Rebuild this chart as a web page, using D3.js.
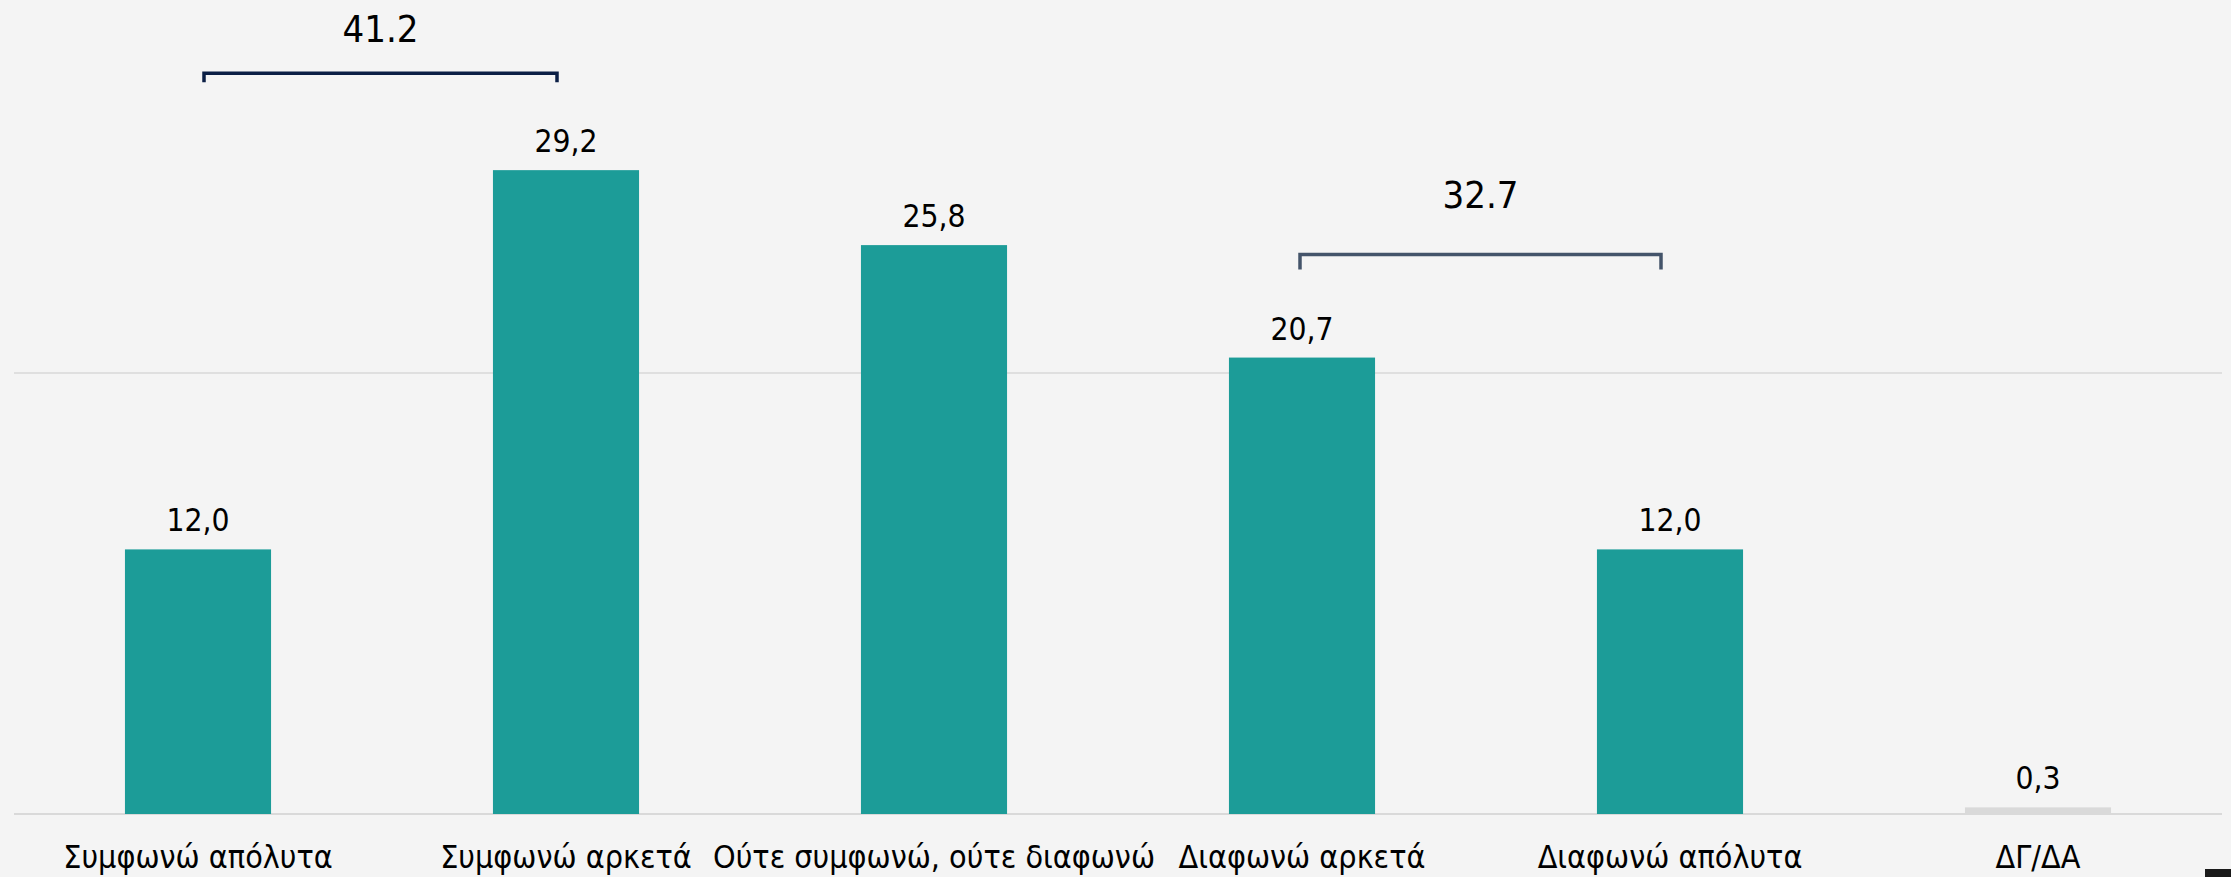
<!DOCTYPE html>
<html>
<head>
<meta charset="utf-8">
<script src="https://cdn.jsdelivr.net/npm/d3@7"></script>
<style>
  body { margin: 0; background: #f4f4f4; }
  svg { display: block; }
  text { font-family: "DejaVu Sans Condensed", "DejaVu Sans", sans-serif; fill: #000; }
</style>
</head>
<body>
<div id="bar-graph"></div>
<script>
// Chart data
const categories = ["Συμφωνώ απόλυτα", "Συμφωνώ αρκετά", "Ούτε συμφωνώ, ούτε διαφωνώ",
                    "Διαφωνώ αρκετά", "Διαφωνώ απόλυτα", "ΔΓ/ΔΑ"];
const values = [12.0, 29.2, 25.8, 20.7, 12.0, 0.3];
const valueLabels = ["12,0", "29,2", "25,8", "20,7", "12,0", "0,3"];
const gridTicks = [0, 20];

// Bracket annotations (sums of adjacent bars)
const bracketPairs = [[0, 1], [3, 4]];
const bracketLabels = ["41.2", "32.7"];

let width = 2231,
    height = 877;

// plot area
let plot = { left: 14, right: 2222, bottom: 814, top: 373 };

let svg = d3.select("#bar-graph")
    .append("svg")
    .attr("width", width)
    .attr("height", height);

svg.append("rect")
    .attr("width", width)
    .attr("height", height)
    .attr("fill", "#f4f4f4");

// X scale
let x = d3.scaleBand()
    .domain(categories)
    .range([plot.left, plot.right])
    .paddingInner(0.603)
    .paddingOuter(0.3015);

// Y scale (gridline at 20 sits at plot.top)
let y = d3.scaleLinear()
    .domain([0, 20])
    .range([plot.bottom, plot.top]);

// Gridlines
svg.append("g")
    .selectAll("line")
    .data(gridTicks)
    .enter()
    .append("line")
    .attr("x1", plot.left)
    .attr("x2", plot.right)
    .attr("y1", d => y(d))
    .attr("y2", d => y(d))
    .attr("stroke", "#d9d9d9")
    .attr("stroke-width", d => d === 0 ? 2.2 : 1.3);

// Bars
svg.selectAll("rect.bar")
    .data(values)
    .enter()
    .append("rect")
    .attr("class", "bar")
    .attr("x", (d, i) => x(categories[i]))
    .attr("y", d => y(d))
    .attr("width", x.bandwidth())
    .attr("height", d => y(0) - y(d))
    .attr("fill", (d, i) => categories[i] === "ΔΓ/ΔΑ" ? "#d9d9d9" : "#1c9c98");

// Value labels
svg.selectAll("text.value")
    .data(values)
    .enter()
    .append("text")
    .attr("class", "value")
    .attr("x", (d, i) => x(categories[i]) + x.bandwidth() / 2)
    .attr("y", d => y(d) - 18)
    .attr("text-anchor", "middle")
    .style("font-size", "31.5px")
    .text((d, i) => valueLabels[i]);

// Category labels
svg.selectAll("text.cat")
    .data(categories)
    .enter()
    .append("text")
    .attr("class", "cat")
    .attr("x", d => x(d) + x.bandwidth() / 2)
    .attr("y", 868)
    .attr("text-anchor", "middle")
    .style("font-size", "32px")
    .text(d => d);

// Brackets
let bracketStyle = [
    { lift: 97, tick: 9, labelGap: 31, color: "#0b1f45", l: 6, r: -9 },
    { lift: 103, tick: 15, labelGap: 47, color: "#44546a", l: -2, r: -9 }
];

bracketPairs.forEach((pair, i) => {
    let s = bracketStyle[i];
    let x1 = x(categories[pair[0]]) + x.bandwidth() / 2 + s.l;
    let x2 = x(categories[pair[1]]) + x.bandwidth() / 2 + s.r;
    let top = y(d3.max(pair, j => values[j])) - s.lift;
    svg.append("path")
        .attr("d", "M" + x1 + "," + (top + s.tick) + "V" + top + "H" + x2 + "V" + (top + s.tick))
        .attr("fill", "none")
        .attr("stroke", s.color)
        .attr("stroke-width", 3.5);
    svg.append("text")
        .attr("x", (x1 + x2) / 2)
        .attr("y", top - s.labelGap)
        .attr("text-anchor", "middle")
        .style("font-size", "38px")
        .text(bracketLabels[i]);
});

// small dark mark in the lower right corner
svg.append("rect")
    .attr("x", 2205)
    .attr("y", 869)
    .attr("width", 26)
    .attr("height", 8)
    .attr("fill", "#1a1a1a");
</script>
</body>
</html>
